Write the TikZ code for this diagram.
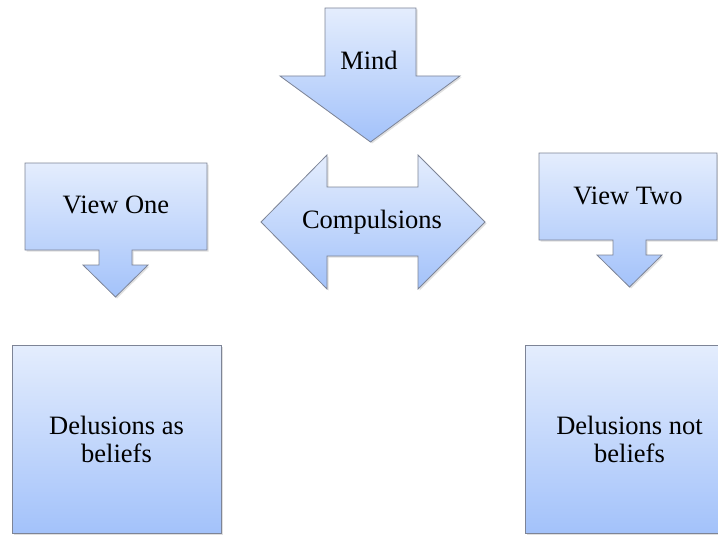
\documentclass[tikz,border=0pt]{standalone}
\usepackage{fontspec}
\setmainfont{Liberation Serif}
\usetikzlibrary{shadows}
\definecolor{shapetop}{RGB}{228,237,253}
\definecolor{shapebottom}{RGB}{163,194,250}
\definecolor{shapeedge}{RGB}{125,132,150}

\begin{document}
\begin{tikzpicture}[x=1pt,y=-1pt,
  blockshape/.style={draw=shapeedge,line width=0.8pt,top color=shapetop,bottom color=shapebottom,
    drop shadow={shadow xshift=1.5pt,shadow yshift=-1.5pt,opacity=0.25}},
  blocktext/.style={font=\fontsize{26.5}{28}\selectfont,align=center,inner sep=0pt}]
  \useasboundingbox (0,0) rectangle (718,535);
  \clip (0,0) rectangle (718,535);
  % block arrows
  \path[blockshape] (325,8) -- (416,8) -- (416,76) -- (460,76) -- (370.5,142) -- (280,76) -- (325,76) -- cycle;
  \path[blockshape] (261,222) -- (327,155) -- (327,187) -- (418,187) -- (418,155) -- (485,222)
    -- (418,289) -- (418,256) -- (327,256) -- (327,289) -- cycle;
  % callouts
  \path[blockshape] (25,163) -- (207,163) -- (207,250) -- (132,250) -- (132,265) -- (148,265) -- (115.5,297)
    -- (83,265) -- (99,265) -- (99,250) -- (25,250) -- cycle;
  \path[blockshape] (539,153) -- (717,153) -- (717,240) -- (646,240) -- (646,255) -- (662,255) -- (629.5,287)
    -- (597,255) -- (613,255) -- (613,240) -- (539,240) -- cycle;
  \node[blocktext] (mind) at (369,60) {Mind};
  \node[blocktext] (compulsions) at (372,222) {Compulsions};
  \node[blocktext] (viewone) at (116,205) {View One};
  \node[blocktext] (viewtwo) at (628,196) {View Two};
  % result boxes
  \node[blockshape,blocktext,minimum width=209,minimum height=188] (asbeliefs) at (116.5,439) {Delusions as\\beliefs};
  \node[blockshape,blocktext,minimum width=209,minimum height=188] (notbeliefs) at (629.5,439) {Delusions not\\beliefs};
\end{tikzpicture}
\end{document}
